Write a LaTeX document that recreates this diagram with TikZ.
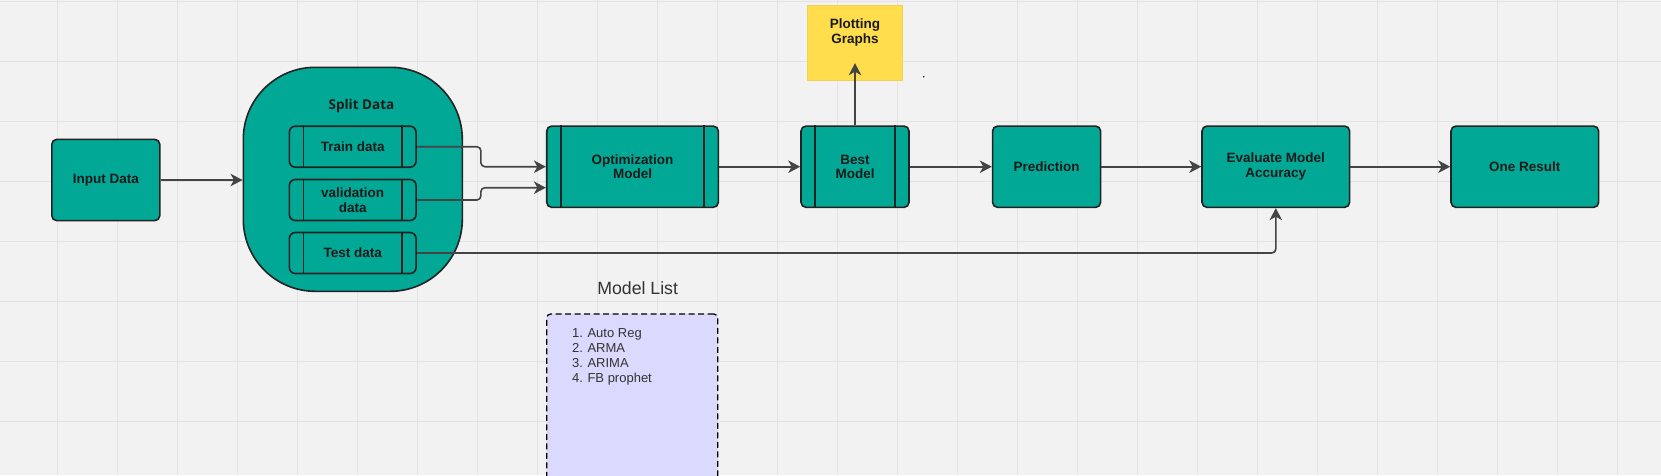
\documentclass[tikz,border=0pt]{standalone}
\usepackage{fontspec}
\setmainfont{Liberation Sans}
\newfontfamily\splitfont{Open Sans}
\usetikzlibrary{arrows.meta}

\definecolor{canvas}{HTML}{F2F2F2}
\definecolor{gridcol}{HTML}{E3E3E3}
\definecolor{boxteal}{HTML}{02A896}
\definecolor{edgecol}{HTML}{222222}
\definecolor{linecol}{HTML}{444444}
\definecolor{txtcol}{HTML}{1A1A1A}
\definecolor{plotyellow}{HTML}{FFDD4C}
\definecolor{plotedge}{HTML}{F2D350}
\definecolor{listviolet}{HTML}{DCD9FF}

\tikzset{
  box/.style={draw=edgecol, line width=1.6pt, fill=boxteal, rounded corners=5pt,
    minimum width=108pt, minimum height=81.3pt, inner sep=0pt, align=center,
    text=txtcol, font=\fontsize{13.5}{14.5}\selectfont\bfseries},
  subbox/.style={box, minimum width=126.7pt, minimum height=41pt, rounded corners=6pt},
  arr/.style={draw=linecol, line width=1.6pt, -{Stealth[length=12pt,width=12.5pt,inset=3.5pt]}},
  gridline/.style={draw=gridcol, line width=1.3pt},
}

\begin{document}
\begin{tikzpicture}[x=1pt,y=-1pt]

  \useasboundingbox (0,0) rectangle (1661,475);
  \clip (0,0) rectangle (1661,475);
  \fill[canvas] (0,0) rectangle (1661,475);

  \foreach \i in {0,...,26}
  \draw[gridline] ({57.7+60*\i},0) -- ++(0,475);
  \foreach \j in {0,...,7}
  \draw[gridline] (0,{1.7+60*\j}) -- ++(1661,0);

  \node[box] (input) at (105.8,180) {Input Data};

  \node[box, minimum width=219pt, minimum height=224pt, rounded corners=72pt] (split) at (352.8,179.3) {};
  \node[font=\splitfont\fontsize{13.5}{14}\selectfont\bfseries, text=txtcol] (splitlabel) at (361.5,106) {Split Data};
  \node[subbox] (train) at (352.7,146.7) {Train data};
  \node[subbox] (val) at (352.7,200) {validation\\data};
  \node[subbox] (test) at (352.7,253) {Test data};

  \node[box, minimum width=171.6pt] (opt) at (632.5,166.7) {Optimization\\Model};
  \node[box] (best) at (855,166.7) {Best\\Model};
  \node[box] (pred) at (1046.6,166.7) {Prediction};
  \node[box, minimum width=147.6pt] (eval) at (1275.8,166.7) {Evaluate Model\\Accuracy};
  \node[box, minimum width=147.6pt] (one) at (1524.8,166.7) {One Result};

  \foreach \n in {train,val,test,opt,best}
  \draw[draw=edgecol, line width=1.6pt] ([xshift=15pt]\n.north west) -- ([xshift=15pt]\n.south west)
        ([xshift=-15pt]\n.north east) -- ([xshift=-15pt]\n.south east);

  \node[draw=plotedge, line width=1pt, fill=plotyellow, minimum width=95.4pt, minimum height=74.6pt] (plot) at (855,43) {};
  \node[align=center, text=txtcol, font=\fontsize{13.5}{15.3}\selectfont\bfseries] (plottext) at (855,32.5) {Plotting\\Graphs};
  \fill[txtcol] (923.7,76.7) circle (0.9);

  \node[text=black!80, font=\fontsize{17.7}{20}\selectfont] (listlabel) at (637.7,288.3) {Model List};
  \node[draw=black, line width=1.3pt, dash pattern=on 6pt off 3.5pt, fill=listviolet, rounded corners=4pt,
    minimum width=171pt, minimum height=200pt, anchor=north] (list) at (632.2,313.3) {};
  \foreach \n/\item in {1/Auto Reg, 2/ARMA, 3/ARIMA, 4/FB prophet}
  \node[anchor=base west, inner sep=0pt, text=black!80, font=\fontsize{13}{15}\selectfont] (item\n) at (572,{322.5+15*\n}) {\n.\hspace{4.5pt}\item};

  % connectors
  \draw[arr] (input.east) -- (input.east -| split.west);
  \draw[arr, rounded corners=4pt] (train.east) -- ++(64pt,0) |- (opt.west);
  \draw[arr, rounded corners=4pt] (val.east) -- ++(64pt,0) |- ([yshift=-21pt]opt.west);
  \draw[arr, rounded corners=4pt] (test.east) -| (eval.south);
  \draw[arr] (best.north) -- ([yshift=17.6pt]plot.south);
  \foreach \a/\b in {opt/best, best/pred, pred/eval, eval/one}
  \draw[arr] (\a) -- (\b);

\end{tikzpicture}
\end{document}
